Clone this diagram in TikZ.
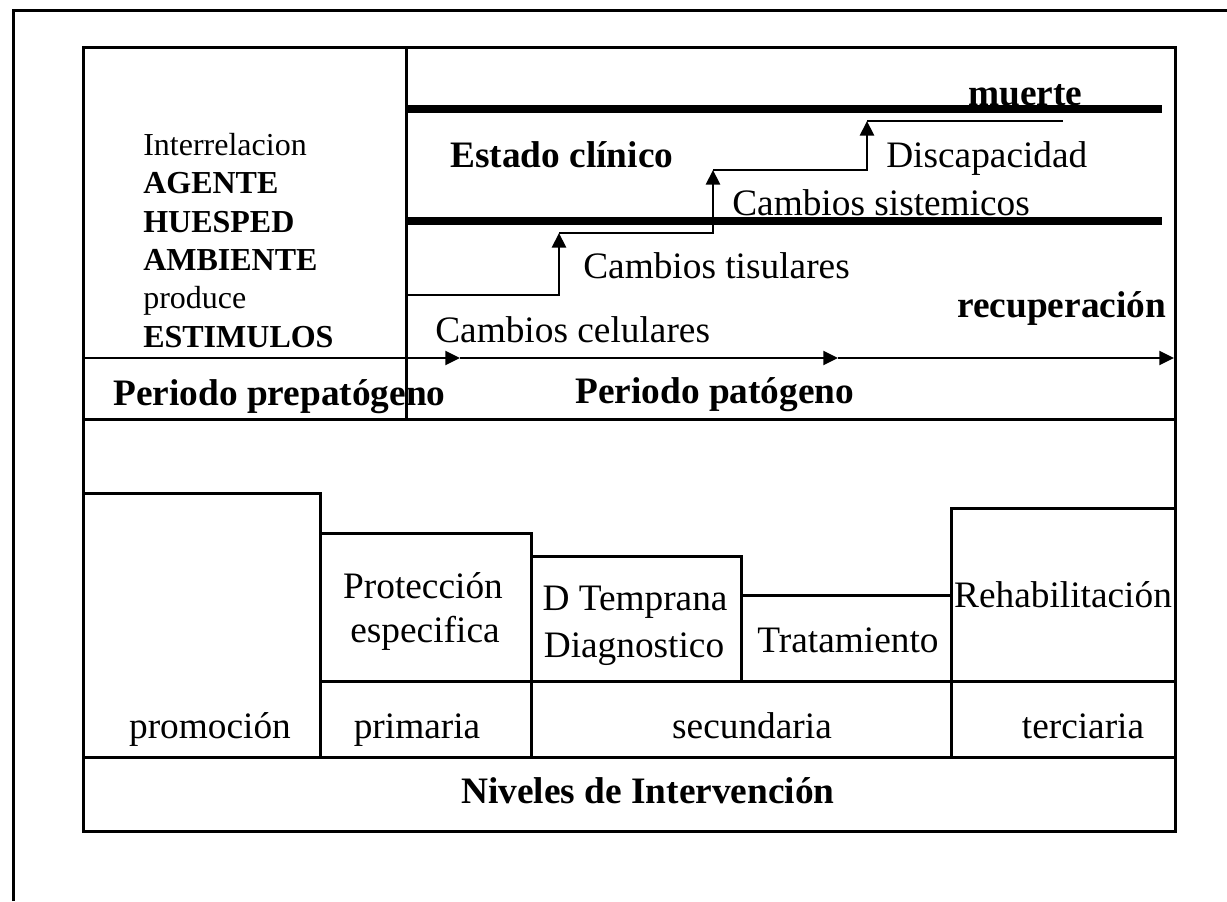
\documentclass[tikz,border=0pt]{standalone}
\usepackage{fontspec}
\setmainfont{Liberation Serif}
\usetikzlibrary{arrows.meta}

\begin{document}
\begin{tikzpicture}[x=0.75pt,y=-0.75pt,
    txt/.style={inner sep=0pt,anchor=base west,font=\fontsize{28}{33}\selectfont},
    btxt/.style={txt,font=\fontsize{28}{33}\selectfont\bfseries},
    stxt/.style={txt,font=\fontsize{24}{28}\selectfont},
    sbtxt/.style={txt,font=\fontsize{24}{28}\selectfont\bfseries},
    ctxt/.style={txt,anchor=base},
    boxline/.style={line width=2.25pt},
    axisline/.style={line width=1.6pt},
    stepline/.style={line width=2.2pt},
    stageline/.style={line width=6.5pt},
    arr/.style={-{Triangle[length=11pt,width=10.5pt]}}]
  \useasboundingbox (0,0) rectangle (1227,901);

  % frames
  \draw[boxline] (13,901) -- (13,10) -- (1227,10);
  \draw[boxline] (83,47) rectangle (1175,831);
  \draw[boxline] (406,47) -- (406,419);
  \draw[boxline] (83,419) -- (1175,419);

  % natural history of the disease
  \node[stxt] (inter) at (143,155) {Interrelacion};
  \node[sbtxt] (agente) at (143,193) {AGENTE};
  \node[sbtxt] (huesped) at (143,232) {HUESPED};
  \node[sbtxt] (ambiente) at (143,270) {AMBIENTE};
  \node[stxt] (produce) at (143,308) {produce};
  \node[sbtxt] (estimulos) at (143,347) {ESTIMULOS};

  \draw[stageline] (406,109) -- (1162,109);
  \draw[stageline] (406,221) -- (1162,221);
  \node[btxt] (muerte) at (968,105) {muerte};
  \node[btxt] (clinico) at (450,167) {Estado clínico};
  \node[btxt] (recup) at (957,317) {recuperación};

  \coordinate (s0) at (406,295);
  \coordinate (s1) at (559,233);
  \coordinate (s2) at (713,170);
  \coordinate (s3) at (867,121);
  \coordinate (s4) at (1063,121);
  \draw[stepline,arr] (s0) -| (s1);
  \draw[stepline,arr] (s1) -| (s2);
  \draw[stepline,arr] (s2) -| (s3);
  \draw[stepline] (s3) -- (s4);
  \node[txt] (disc) at (886,167) {Discapacidad};
  \node[txt] (sist) at (732,215) {Cambios sistemicos};
  \node[txt] (tisul) at (583,278) {Cambios tisulares};
  \node[txt] (celul) at (435,342) {Cambios celulares};

  \coordinate (a0) at (83,358);
  \coordinate (a1) at (406,358);
  \coordinate (a2) at (460,358);
  \coordinate (a3) at (838,358);
  \coordinate (a4) at (1174,358);
  \draw[axisline] (a0) -- (a1);
  \draw[axisline,arr] (a1) -- (a2);
  \draw[axisline,arr] (a2) -- (a3);
  \draw[axisline,arr] (a3) -- (a4);
  \node[btxt] (prepat) at (113,405) {Periodo prepatógeno};
  \node[btxt] (patog) at (575,403) {Periodo patógeno};

  % levels of intervention
  \draw[boxline] (83,493) rectangle (320,757);
  \draw[boxline] (320,533) rectangle (531,681);
  \draw[boxline] (531,556) rectangle (741,681);
  \draw[boxline] (741,595) rectangle (951,681);
  \draw[boxline] (951,508) rectangle (1175,681);
  \draw[boxline] (320,681) -- (320,757);
  \draw[boxline] (531,681) -- (531,757);
  \draw[boxline] (951,681) -- (951,757);
  \draw[boxline] (83,757) -- (1175,757);

  \node[ctxt] (prot) at (423,598) {Protección};
  \node[ctxt] (espec) at (425,642) {especifica};
  \node[ctxt] (dtemp) at (635,610) {D Temprana};
  \node[ctxt] (diagn) at (634,657) {Diagnostico};
  \node[ctxt] (trat) at (848,652) {Tratamiento};
  \node[ctxt] (rehab) at (1063,607) {Rehabilitación};
  \node[ctxt] (promo) at (210,738) {promoción};
  \node[ctxt] (prim) at (417,738) {primaria};
  \node[ctxt] (secun) at (752,738) {secundaria};
  \node[ctxt] (terc) at (1083,738) {terciaria};
  \node[btxt,anchor=base] (niveles) at (648,803) {Niveles de Intervención};
\end{tikzpicture}
\end{document}
